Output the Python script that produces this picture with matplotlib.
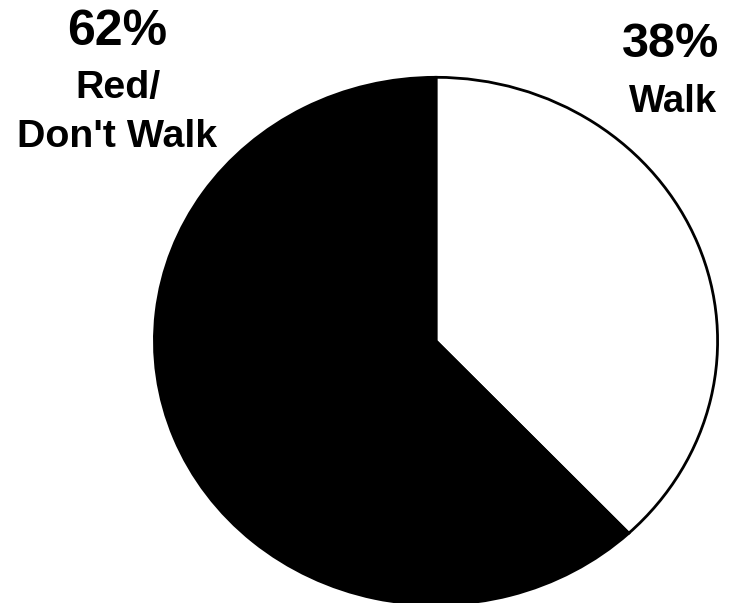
import matplotlib.pyplot as plt

# share of pedestrians by signal phase
labels = ["Walk", "Red/\nDon't Walk"]
shares = [38, 62]
colors = ["white", "black"]

W, H = 729, 603

plt.rcParams["font.family"] = ["Liberation Sans", "DejaVu Sans"]

fig = plt.figure(figsize=(W / 100, H / 100), dpi=100)

# background axes in pixel units for the labels
bg = fig.add_axes([0, 0, 1, 1])
bg.set_xlim(0, W)
bg.set_ylim(0, H)
bg.axis("off")

# pie is slightly squashed vertically: 283 px wide radius, 265 px tall
cx, cy, rx, ry = 436, 341, 283, 265
pax = fig.add_axes([(cx - rx) / W, (H - cy - ry) / H, 2 * rx / W, 2 * ry / H])
pax.pie(
    shares,
    colors=colors,
    startangle=90,
    counterclock=False,
    radius=1,
    wedgeprops=dict(edgecolor="black", linewidth=2.0),
)
pax.set_xlim(-1.005, 1.005)
pax.set_ylim(-1.005, 1.005)
pax.set_aspect("auto")
pax.axis("off")

# left label (62%)
bg.text(117, H - 45, f"{shares[1]}%", ha="center", va="baseline",
        fontsize=36, fontweight="bold")
bg.text(118, H - 98, "Red/", ha="center", va="baseline",
        fontsize=28.4, fontweight="bold")
bg.text(117, H - 147, "Don't Walk", ha="center", va="baseline",
        fontsize=28.4, fontweight="bold")

# right label (38%)
bg.text(671, H - 57, f"{shares[0]}%", ha="center", va="baseline",
        fontsize=35, fontweight="bold")
bg.text(673, H - 112, labels[0], ha="center", va="baseline",
        fontsize=27.6, fontweight="bold")

fig.savefig("out.png", dpi=100, facecolor="white")
